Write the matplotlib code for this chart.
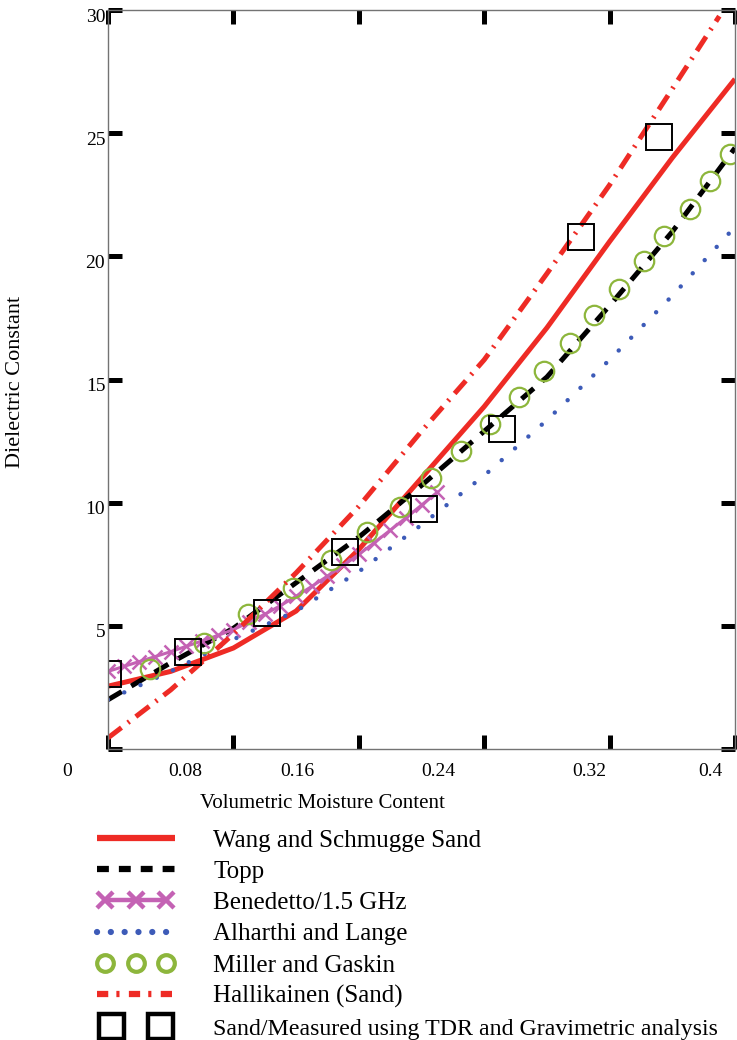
import numpy as np
import matplotlib
matplotlib.use('Agg')
import matplotlib.pyplot as plt
from matplotlib.lines import Line2D
from matplotlib.legend_handler import HandlerLine2D
from matplotlib.transforms import ScaledTranslation, blended_transform_factory

plt.rcParams['font.family'] = ['Liberation Serif', 'DejaVu Serif']

# values
moisture = [0.00, 0.04, 0.08, 0.12, 0.16, 0.20, 0.24, 0.28, 0.32, 0.36, 0.40]
wang_schmugge = [2.55, 3.15, 4.1, 5.6, 8.1, 11.0, 13.9, 17.1, 20.6, 24.0, 27.2]
topp = [2.0, 3.5, 4.9, 6.75, 8.6, 10.7, 12.9, 15.1, 18.0, 21.0, 24.4]
alharthi = [2.0, 3.15, 4.45, 5.6, 7.2, 9.1, 11.1, 13.35, 15.8, 18.4, 21.2]

halli_x = [0.00, 0.04, 0.08, 0.12, 0.16, 0.20, 0.24, 0.28, 0.32, 0.36, 0.39]
hallikainen = [0.45, 2.4, 4.67, 7.15, 9.85, 12.9, 15.8, 19.3, 22.9, 26.8, 29.75]

bene_x = [0.00, 0.01, 0.02, 0.03, 0.04, 0.05, 0.06, 0.07, 0.08, 0.09, 0.10,
          0.11, 0.12, 0.13, 0.14, 0.15, 0.16, 0.17, 0.18, 0.19, 0.20, 0.21]
benedetto = [3.15, 3.35, 3.55, 3.75, 3.95, 4.17, 4.39, 4.61, 4.85, 5.15, 5.47,
             5.82, 6.20, 6.60, 7.02, 7.45, 7.90, 8.38, 8.88, 9.38, 9.90, 10.42]

miller_x = [0.027, 0.061, 0.089, 0.118, 0.142, 0.165, 0.186, 0.206, 0.225, 0.244,
            0.262, 0.278, 0.295, 0.310, 0.326, 0.342, 0.355, 0.371, 0.384, 0.397]
miller = [3.25, 4.30, 5.48, 6.54, 7.67, 8.81, 9.83, 11.00, 12.10, 13.20,
          14.29, 15.35, 16.48, 17.62, 18.68, 19.81, 20.83, 21.92, 23.06, 24.16]

tdr_x = [0.000, 0.051, 0.1015, 0.151, 0.2016, 0.2515, 0.302, 0.3514]
tdr = [3.05, 3.94, 5.52, 8.0, 9.74, 13.0, 20.8, 24.85]

xticks = [0, 0.08, 0.16, 0.24, 0.32, 0.4]
xtick_labels = ['0', '0.08', '0.16', '0.24', '0.32', '0.4']
xlabel_pos = [-0.026, 0.049, 0.121, 0.211, 0.307, 0.384]
yticks = [0, 5, 10, 15, 20, 25, 30]
ytick_labels = ['', '5', '10', '15', '20', '25', '30']

red = '#ee2b25'
green = '#8db63c'
magenta = '#c462b4'
blue = '#3d5bb8'
topp_ls = (0, (3.2, 2.2))
alh_ls = (0, (0.01, 4.0))
hal_ls = (0, (3.4, 1.6, 0.4, 1.6))

fig = plt.figure(figsize=(7.37, 10.4), dpi=100)
ax = fig.add_axes([108/737, 1 - 749/1040, 627/737, 739/1040])

ax.plot(moisture, wang_schmugge, color=red, lw=3.6, solid_capstyle='butt')
ax.plot(moisture, topp, color='black', lw=3.6, ls=topp_ls)
ax.plot(bene_x, benedetto, color=magenta, lw=2.2, marker='x', ms=10, mew=1.8)
ax.plot(moisture, alharthi, color=blue, lw=3.2, ls=alh_ls, dash_capstyle='round')
ax.plot(miller_x, miller, ls='none', marker='o', ms=14, mfc='none', mec=green, mew=1.6)
ax.plot(halli_x, hallikainen, color=red, lw=3.6, ls=hal_ls)
ax.plot(tdr_x, tdr, ls='none', marker='s', ms=19, mfc='none', mec='black', mew=1.4)

ax.set_xlim(0, 0.4)
ax.set_ylim(0, 30)
for s in ax.spines.values():
    s.set_color('0.45')
    s.set_linewidth(1.0)

ax.set_xticks(xticks)
ax.set_xticklabels([])
ax.set_yticks(yticks)
ax.set_yticklabels(ytick_labels, fontsize=14)
ax.tick_params(direction='in', length=10, width=3.6, color='black',
               top=True, right=True, pad=2)
off = ScaledTranslation(0, -5/100, fig.dpi_scale_trans)
for lab in ax.get_yticklabels():
    lab.set_transform(lab.get_transform() + off)

trans = blended_transform_factory(ax.transData, fig.transFigure)
for xp, txt in zip(xlabel_pos, xtick_labels):
    ax.text(xp, 1 - 771/1040, txt, transform=trans, ha='center', va='center',
            fontsize=14, clip_on=False)

fig.text(322/737, 1 - 804/1040, 'Volumetric Moisture Content', ha='center',
         va='center', fontsize=15)
fig.text(16/737, 1 - 382/1040, 'Dielectric Constant', rotation=90, ha='center',
         va='center', fontsize=16)

# legend keys drawn a bit heavier than the plot marks, as in the original
h_wang = Line2D([], [], color=red, lw=4.5, solid_capstyle='butt')
h_topp = Line2D([], [], color='black', lw=4.5, ls=(0, (1.9, 1.6)))
h_bene = Line2D([], [], color=magenta, lw=3.2, marker='x', ms=11, mew=3.2)
h_alh = Line2D([], [], color=blue, lw=4.5, ls=(0, (0.01, 2.2)), dash_capstyle='round')
h_mil = Line2D([], [], ls='none', marker='o', ms=12, mfc='none', mec=green, mew=3.0)
h_hal = Line2D([], [], color=red, lw=4.5, ls=(0, (1.8, 1.3, 0.5, 1.5)))
h_tdr = Line2D([], [], ls='none', marker='s', ms=18, mfc='none', mec='black', mew=3.2)

handles = [h_wang, h_topp, h_bene, h_alh, h_mil, h_hal, h_tdr]
labels = ['Wang and Schmugge Sand', 'Topp', 'Benedetto/1.5 GHz',
          'Alharthi and Lange', 'Miller and Gaskin', 'Hallikainen (Sand)',
          'Sand/Measured using TDR and Gravimetric analysis']
leg = fig.legend(handles, labels, loc='upper left',
                 bbox_to_anchor=(79/737, 1 - 819/1040), frameon=False, fontsize=18,
                 handlelength=3.72, handletextpad=1.24, labelspacing=0.35,
                 numpoints=3, borderaxespad=0,
                 handler_map={h_tdr: HandlerLine2D(numpoints=2, marker_pad=0.88),
                              h_bene: HandlerLine2D(marker_pad=0.64),
                              h_mil: HandlerLine2D(marker_pad=0.64)})
# keep the long last label inside the figure
leg.get_texts()[-1].set_fontsize(17.2)

fig.savefig('out.png', dpi=100)
